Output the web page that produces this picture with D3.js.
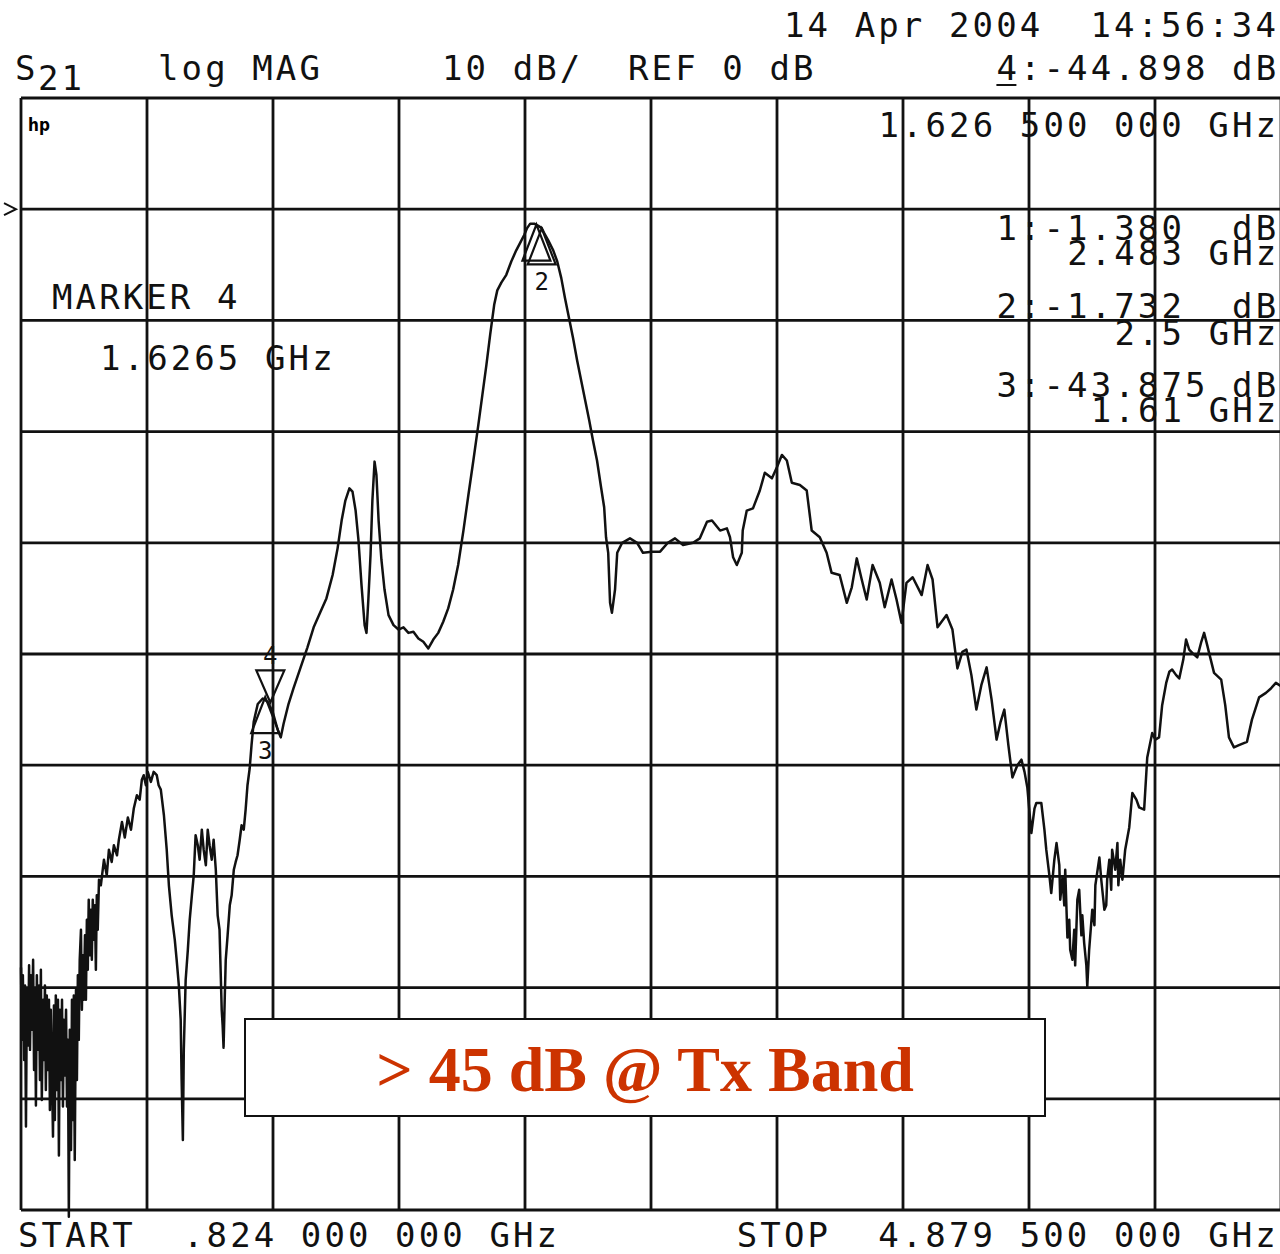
<!DOCTYPE html>
<meta charset="utf-8">
<style>
body { margin: 0; background: #fff; }
svg { display: block; }
.hpfont { font-family: "DejaVu Sans Mono", monospace; font-size: 34px; letter-spacing: 3.1px; fill: #111; }
.grid line { stroke: #111; stroke-width: 2.8px; }
.trace { fill: none; stroke: #111; stroke-width: 2.5px; stroke-linejoin: round; }
.mark { fill: none; stroke: #111; stroke-width: 2.2px; }
</style>
<body>
<script src="https://d3js.org/d3.v7.min.js"></script>
<script>

// sweep setup of the analyzer
var startGHz = 0.824, stopGHz = 4.8795;
var topDb = 10, bottomDb = -90, refDb = 0;
var divisions = 10;

// S21 trace, [GHz, dB]
var trace = [
  [0.824,-68.2],[0.827,-74.7],[0.830,-68.9],[0.834,-76.5],[0.837,-69.8],[0.840,-82.5],[0.843,-70.2],[0.847,-75.2],
  [0.850,-68.0],[0.853,-75.6],[0.856,-68.9],[0.859,-73.8],[0.863,-67.5],[0.866,-77.4],[0.869,-70.2],[0.872,-80.6],
  [0.875,-68.9],[0.879,-75.6],[0.882,-69.8],[0.885,-78.3],[0.888,-68.4],[0.891,-80.1],[0.895,-71.1],[0.898,-76.5],
  [0.901,-69.8],[0.904,-79.2],[0.907,-70.7],[0.911,-77.4],[0.914,-71.1],[0.917,-81.0],[0.920,-72.0],[0.924,-78.3],
  [0.927,-83.4],[0.930,-71.6],[0.933,-81.9],[0.936,-70.7],[0.940,-79.2],[0.943,-71.1],[0.946,-85.1],[0.949,-72.0],
  [0.953,-78.3],[0.956,-71.1],[0.959,-80.7],[0.962,-72.9],[0.965,-77.9],[0.969,-72.0],[0.972,-80.7],[0.975,-74.7],
  [0.978,-90.6],[0.981,-73.8],[0.985,-84.6],[0.988,-71.1],[0.991,-81.9],[0.994,-70.7],[0.997,-85.5],[1.001,-70.2],
  [1.004,-78.3],[1.007,-68.9],[1.010,-74.7],[1.013,-67.5],[1.017,-64.8],[1.020,-72.0],[1.023,-67.1],[1.026,-71.1],
  [1.030,-65.3],[1.033,-71.1],[1.036,-63.9],[1.039,-68.4],[1.042,-62.1],[1.046,-67.1],[1.049,-63.0],[1.052,-67.5],
  [1.055,-62.1],[1.059,-65.7],[1.062,-62.6],[1.065,-68.4],[1.068,-61.7],[1.071,-64.8],[1.075,-60.3],[1.081,-60.8],
  [1.091,-58.5],[1.100,-59.9],[1.107,-57.6],[1.116,-58.7],[1.123,-57.2],[1.133,-58.1],[1.139,-56.7],[1.149,-55.1],
  [1.158,-56.5],[1.168,-54.7],[1.178,-55.8],[1.187,-53.9],[1.197,-52.7],[1.206,-53.1],[1.213,-51.3],[1.219,-50.9],
  [1.226,-51.8],[1.232,-50.6],[1.242,-51.5],[1.251,-50.6],[1.261,-50.9],[1.267,-51.8],[1.274,-52.2],[1.284,-54.5],
  [1.293,-57.6],[1.300,-60.8],[1.309,-63.5],[1.319,-65.7],[1.325,-67.5],[1.332,-69.8],[1.338,-72.9],[1.341,-78.3],
  [1.345,-83.7],[1.348,-75.6],[1.354,-69.3],[1.361,-66.6],[1.367,-63.9],[1.374,-61.7],[1.380,-59.9],[1.386,-56.3],
  [1.393,-57.2],[1.399,-58.5],[1.406,-55.8],[1.412,-57.6],[1.419,-59.0],[1.425,-55.8],[1.431,-57.2],[1.438,-58.5],
  [1.444,-56.7],[1.451,-59.4],[1.457,-63.5],[1.463,-64.8],[1.470,-72.0],[1.473,-73.4],[1.476,-75.4],[1.480,-70.7],
  [1.483,-67.5],[1.489,-65.3],[1.496,-62.6],[1.502,-61.7],[1.509,-59.4],[1.515,-58.7],[1.521,-58.1],[1.528,-56.7],
  [1.534,-55.4],[1.541,-55.8],[1.547,-54.0],[1.553,-51.8],[1.560,-50.3],[1.566,-48.2],[1.573,-46.1],[1.586,-44.5],
  [1.602,-44.0],[1.618,-44.3],[1.634,-45.2],[1.650,-46.8],[1.660,-47.5],[1.669,-46.3],[1.685,-44.5],[1.701,-43.1],
  [1.724,-41.2],[1.746,-39.4],[1.766,-37.6],[1.788,-36.2],[1.807,-35.0],[1.827,-32.9],[1.843,-30.5],[1.856,-28.0],
  [1.868,-26.2],[1.881,-25.1],[1.891,-25.4],[1.901,-27.1],[1.910,-29.7],[1.920,-33.8],[1.930,-37.4],[1.936,-38.1],
  [1.942,-35.1],[1.949,-31.1],[1.955,-26.2],[1.962,-22.7],[1.968,-23.9],[1.975,-28.0],[1.984,-31.5],[1.994,-34.2],
  [2.007,-36.5],[2.023,-37.4],[2.039,-37.8],[2.055,-37.6],[2.071,-38.1],[2.087,-38.0],[2.103,-38.6],[2.119,-38.9],
  [2.135,-39.5],[2.151,-38.7],[2.167,-38.1],[2.183,-37.1],[2.199,-35.9],[2.215,-34.2],[2.231,-32.0],[2.248,-28.9],
  [2.264,-25.7],[2.280,-22.6],[2.296,-19.4],[2.309,-16.7],[2.322,-14.0],[2.334,-11.3],[2.347,-8.6],[2.357,-7.3],
  [2.370,-6.6],[2.386,-5.9],[2.402,-4.7],[2.418,-3.7],[2.431,-3.0],[2.444,-2.3],[2.453,-1.7],[2.463,-1.3],
  [2.476,-1.3],[2.483,-1.4],[2.489,-1.5],[2.500,-1.7],[2.507,-2.1],[2.521,-2.8],[2.537,-3.7],[2.550,-4.7],
  [2.563,-6.2],[2.575,-8.0],[2.588,-9.8],[2.601,-11.6],[2.614,-13.6],[2.627,-15.4],[2.640,-17.2],[2.653,-19.0],
  [2.665,-20.8],[2.678,-22.6],[2.691,-25.0],[2.701,-26.8],[2.707,-29.5],[2.714,-30.9],[2.720,-35.4],[2.726,-36.3],
  [2.736,-34.2],[2.743,-30.9],[2.759,-30.0],[2.784,-29.6],[2.807,-30.0],[2.826,-30.9],[2.855,-30.8],[2.881,-30.8],
  [2.906,-30.0],[2.929,-29.6],[2.955,-30.2],[2.987,-30.0],[3.009,-29.6],[3.032,-28.1],[3.048,-28.0],[3.074,-28.9],
  [3.096,-28.7],[3.106,-29.5],[3.116,-31.3],[3.128,-32.0],[3.144,-30.9],[3.147,-28.9],[3.160,-27.1],[3.180,-26.9],
  [3.202,-25.3],[3.218,-23.7],[3.241,-24.2],[3.257,-23.2],[3.273,-22.1],[3.289,-22.6],[3.305,-24.6],[3.331,-24.8],
  [3.353,-25.3],[3.369,-28.9],[3.395,-29.5],[3.417,-30.9],[3.433,-32.7],[3.459,-32.9],[3.482,-35.4],[3.498,-34.0],
  [3.514,-31.4],[3.530,-33.3],[3.546,-35.1],[3.565,-32.0],[3.588,-33.6],[3.604,-35.8],[3.626,-33.3],[3.642,-35.1],
  [3.658,-37.2],[3.674,-33.6],[3.694,-33.1],[3.723,-34.7],[3.742,-32.0],[3.758,-33.3],[3.774,-37.6],[3.803,-36.5],
  [3.822,-37.8],[3.838,-41.3],[3.854,-39.8],[3.867,-39.6],[3.883,-41.9],[3.899,-45.0],[3.915,-42.8],[3.932,-41.2],
  [3.948,-44.1],[3.964,-47.7],[3.977,-46.1],[3.989,-45.0],[4.002,-48.2],[4.015,-51.1],[4.031,-50.0],[4.044,-49.5],
  [4.054,-50.6],[4.063,-52.0],[4.076,-56.1],[4.086,-53.9],[4.092,-53.4],[4.108,-53.4],[4.118,-55.8],[4.124,-57.6],
  [4.134,-59.9],[4.140,-61.5],[4.150,-58.5],[4.157,-57.0],[4.166,-59.0],[4.169,-62.1],[4.176,-60.1],[4.182,-62.6],
  [4.185,-59.4],[4.192,-65.5],[4.198,-63.9],[4.201,-66.6],[4.208,-67.5],[4.214,-64.8],[4.217,-68.0],[4.224,-62.1],
  [4.230,-61.2],[4.237,-65.3],[4.240,-63.5],[4.246,-66.0],[4.253,-68.0],[4.256,-69.9],[4.262,-66.6],[4.272,-63.0],
  [4.279,-64.4],[4.282,-60.8],[4.295,-58.3],[4.301,-60.3],[4.311,-63.0],[4.317,-62.6],[4.320,-60.3],[4.327,-58.5],
  [4.333,-61.2],[4.336,-57.6],[4.346,-59.4],[4.353,-57.0],[4.356,-60.8],[4.362,-58.5],[4.369,-60.3],[4.378,-57.6],
  [4.391,-55.6],[4.401,-52.5],[4.414,-53.1],[4.423,-53.8],[4.439,-54.0],[4.449,-49.3],[4.465,-47.1],[4.475,-47.7],
  [4.487,-47.5],[4.497,-44.6],[4.510,-42.6],[4.520,-41.6],[4.529,-41.4],[4.542,-41.9],[4.552,-42.2],[4.565,-40.5],
  [4.574,-38.7],[4.584,-39.6],[4.594,-39.9],[4.610,-40.3],[4.623,-38.9],[4.632,-38.1],[4.642,-39.2],[4.648,-39.9],
  [4.664,-41.7],[4.687,-42.3],[4.700,-44.6],[4.712,-47.5],[4.728,-48.4],[4.744,-48.2],[4.770,-47.9],[4.786,-45.9],
  [4.809,-43.9],[4.831,-43.5],[4.847,-43.1],[4.863,-42.6],[4.8795,-42.9]
];

// markers
var markerNum = [1, 2, 3, 4];
var markerGHz = [2.483, 2.5, 1.61, 1.6265];
var markerDb = [-1.38, -1.732, -43.875, -44.898];
var activeMarker = 4;

// screen texts
var dateText = "14 Apr 2004  14:56:34";
var paramText = ["log MAG", "10 dB/", "REF 0 dB"];
var activeReadout = "4:-44.898 dB";
var activeFreq = "1.626 500 000 GHz";
var markerReadouts = ["1:-1.380  dB", "2.483 GHz", "2:-1.732  dB", "2.5 GHz", "3:-43.875 dB", "1.61 GHz"];
var markerNote = ["MARKER 4", "1.6265 GHz"];
var startText = "START  .824 000 000 GHz";
var stopText = "STOP  4.879 500 000 GHz";
var calloutText = "> 45 dB @ Tx Band";

var W = 1280, H = 1254;
var pitch = 23.6;   // character cell of the plotter font
var rightEdge = 1276;

var svg = d3.select("body").append("svg")
    .attr("width", W)
    .attr("height", H);

var x = d3.scaleLinear().domain([startGHz, stopGHz]).range([21, 1281]);
var y = d3.scaleLinear().domain([topDb, bottomDb]).range([98, 1210]);

// grid
var xTicks = d3.range(divisions + 1).map(function(i) { return startGHz + i * (stopGHz - startGHz) / divisions; });
var yTicks = d3.range(topDb, bottomDb - 1, -10);

var grid = svg.append("g").attr("class", "grid");
grid.selectAll(".v").data(xTicks).enter().append("line")
    .attr("x1", function(d) { return x(d); })
    .attr("x2", function(d) { return x(d); })
    .attr("y1", y(topDb)).attr("y2", y(bottomDb));
grid.selectAll(".h").data(yTicks).enter().append("line")
    .attr("x1", x(startGHz)).attr("x2", x(stopGHz))
    .attr("y1", function(d) { return y(d); })
    .attr("y2", function(d) { return y(d); });

// reference position arrow on the left
svg.append("path")
    .attr("d", "M4," + (y(refDb) - 6) + "L16," + y(refDb) + "L4," + (y(refDb) + 6))
    .attr("fill", "none").attr("stroke", "#111").attr("stroke-width", 2);

// trace
var line = d3.line()
    .x(function(d) { return x(d[0]); })
    .y(function(d) { return y(d[1]); });

svg.append("path")
    .datum(trace)
    .attr("class", "trace")
    .attr("d", line);

// marker symbols
var markers = markerNum.map(function(n, i) {
    return { n: n, f: markerGHz[i], db: markerDb[i] };
});

markers.forEach(function(m) {
    var px = x(m.f), py = y(m.db);
    var g = svg.append("g");
    if (m.n === activeMarker) {
        g.append("path").attr("class", "mark")
            .attr("d", "M" + (px - 14) + "," + (py - 38) + "L" + (px + 14) + "," + (py - 38) + "L" + px + "," + (py - 6) + "Z");
        g.append("text").attr("class", "hpfont")
            .style("font-size", "24px").style("letter-spacing", "0px")
            .attr("x", px).attr("y", py - 44).attr("text-anchor", "middle")
            .text(m.n);
    } else {
        g.append("path").attr("class", "mark")
            .attr("d", "M" + px + "," + py + "L" + (px + 14) + "," + (py + 36) + "L" + (px - 14) + "," + (py + 36) + "Z");
        if (m.n !== 1) {
            g.append("text").attr("class", "hpfont")
                .style("font-size", "24px").style("letter-spacing", "0px")
                .attr("x", px).attr("y", py + 62).attr("text-anchor", "middle")
                .text(m.n);
        }
    }
});

// header & annotation text
function hpText(str, x0, y0) {
    return svg.append("text").attr("class", "hpfont")
        .attr("x", x0).attr("y", y0)
        .style("white-space", "pre")
        .text(str);
}
function rightStart(str) { return rightEdge - 20 - (str.length - 1) * pitch; }

hpText(dateText, rightStart(dateText), 37);
hpText("S", 15, 80);
hpText("21", 38, 90);
hpText(paramText[0], 158, 80);
hpText(paramText[1], 442, 80);
hpText(paramText[2], 628, 80);
var act = rightStart(activeReadout);
hpText(activeReadout, act, 80);
svg.append("line").attr("x1", act).attr("x2", act + 20)
    .attr("y1", 85).attr("y2", 85).attr("stroke", "#111").attr("stroke-width", 2);

svg.append("text").attr("x", 28).attr("y", 131)
    .style("font-family", "'DejaVu Sans Condensed', sans-serif")
    .style("font-weight", "bold").style("font-size", "17px")
    .text("hp");

hpText(activeFreq, rightStart(activeFreq), 137);
var readY = [240, 265, 318, 345, 397, 422];
markerReadouts.forEach(function(s, i) { hpText(s, rightStart(s), readY[i]); });
hpText(markerNote[0], 52, 309);
hpText(markerNote[1], 100, 370);
hpText(startText, 18, 1247);
hpText(stopText, rightStart(stopText), 1247);

// callout
svg.append("rect")
    .attr("x", 245).attr("y", 1019)
    .attr("width", 800).attr("height", 97)
    .attr("fill", "#fff").attr("stroke", "#111").attr("stroke-width", 2);
svg.append("text")
    .attr("x", 645).attr("y", 1091)
    .attr("text-anchor", "middle")
    .style("font-family", "'Liberation Serif', 'Times New Roman', serif")
    .style("font-weight", "bold")
    .style("font-size", "64px")
    .style("white-space", "pre")
    .attr("fill", "#cc3300")
    .text(calloutText);

</script>
</body>
